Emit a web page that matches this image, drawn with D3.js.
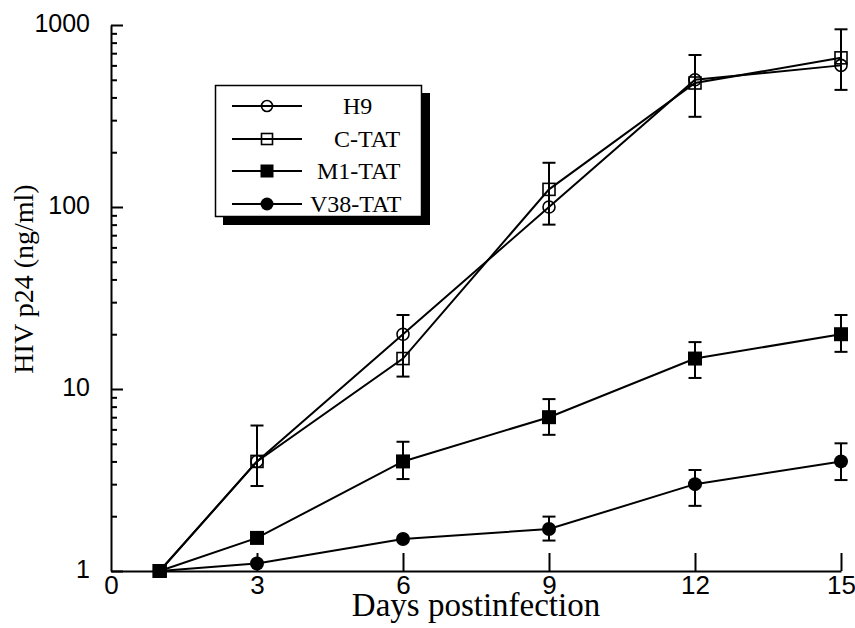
<!DOCTYPE html>
<html>
<head>
<meta charset="utf-8">
<script src="https://cdn.jsdelivr.net/npm/d3@7"></script>
<style>
  html, body { margin: 0; padding: 0; background: #fff; }
  svg { display: block; }
</style>
</head>
<body>
<svg id="chart" width="855" height="628"></svg>
<script>
// ---- data ----
const days = [1, 3, 6, 9, 12, 15];
const seriesNames = ["H9", "C-TAT", "M1-TAT", "V38-TAT"];
const h9 = [1, 4, 20, 100, 500, 600];
const cTat = [1, 4, 14.7, 125, 480, 660];
const m1Tat = [1, 1.52, 4, 7, 14.7, 20];
const v38Tat = [1, 1.1, 1.5, 1.7, 3.0, 4.0];
// error bars (low, high) per day; null = none
const cTatErrLow = [null, 2.93, 11.7, 80, 313, 440];
const cTatErrHigh = [null, 6.3, 25.5, 175, 684, 947];
const m1ErrLow = [null, null, 3.2, 5.6, 11.5, 16.0];
const m1ErrHigh = [null, null, 5.13, 8.8, 18.1, 25.5];
const v38ErrLow = [null, null, null, 1.47, 2.28, 3.16];
const v38ErrHigh = [null, null, null, 1.99, 3.59, 5.03];
const xTicks = [0, 3, 6, 9, 12, 15];
const yMajorTicks = [1, 10, 100, 1000];
const xTitle = "Days postinfection";
const yTitle = "HIV p24 (ng/ml)";

// ---- layout ----
const svg = d3.select("#chart");
const x = d3.scaleLinear().domain([0, 15]).range([111, 841]);
const y = d3.scaleLog().domain([1, 1000]).range([571, 25]);

const yMinorTicks = [];
[1, 10, 100].forEach(d => { for (let k = 2; k <= 9; k++) yMinorTicks.push(d * k); });

const sansFont = "'Liberation Sans', Arial, sans-serif";
const serifFont = "'Liberation Serif', 'Times New Roman', serif";

// y axis minor ticks
const gyMinor = svg.append("g").attr("transform", "translate(111,0)")
  .call(d3.axisLeft(y).tickValues(yMinorTicks).tickFormat("").tickSizeInner(-6).tickSizeOuter(0));
gyMinor.select(".domain").remove();
gyMinor.selectAll("line").attr("stroke", "#000").attr("stroke-width", 2);

// y axis major
const gy = svg.append("g").attr("transform", "translate(111,0)")
  .call(d3.axisLeft(y).tickValues(yMajorTicks).tickFormat(d3.format("d")).tickSizeInner(-12).tickSizeOuter(0).tickPadding(21));
gy.select(".domain").attr("stroke", "#000").attr("stroke-width", 2);
gy.selectAll("line").attr("stroke", "#000").attr("stroke-width", 2);
gy.selectAll("text").attr("font-family", sansFont).attr("font-size", 25).attr("fill", "#000").attr("dy", "0.25em");

// x axis
const gx = svg.append("g").attr("transform", "translate(0,571)")
  .call(d3.axisBottom(x).tickValues(xTicks).tickSizeInner(-18).tickSizeOuter(0).tickPadding(5));
gx.select(".domain").attr("stroke", "#000").attr("stroke-width", 2);
gx.selectAll("line").attr("stroke", "#000").attr("stroke-width", 2);
gx.selectAll(".tick").filter(d => d === 0).select("line").remove();
gx.selectAll("text").attr("font-family", sansFont).attr("font-size", 26).attr("fill", "#000");

// titles
svg.append("text").attr("x", (x(0) + x(15)) / 2).attr("y", 616)
  .attr("text-anchor", "middle").attr("font-family", serifFont).attr("font-size", 33).text(xTitle);
svg.append("text").attr("transform", "translate(33,279) rotate(-90)")
  .attr("text-anchor", "middle").attr("font-family", serifFont).attr("font-size", 28).text(yTitle);

// ---- series ----
const series = [
  { name: seriesNames[0], values: h9, shape: "circle", filled: false },
  { name: seriesNames[1], values: cTat, shape: "square", filled: false, lo: cTatErrLow, hi: cTatErrHigh },
  { name: seriesNames[2], values: m1Tat, shape: "square", filled: true, lo: m1ErrLow, hi: m1ErrHigh },
  { name: seriesNames[3], values: v38Tat, shape: "circle", filled: true, lo: v38ErrLow, hi: v38ErrHigh }
];

const line = d3.line().x(d => x(d[0])).y(d => y(d[1]));

// error bars
const capW = 6.5;
series.forEach(s => {
  if (!s.lo) return;
  days.forEach((dd, i) => {
    if (s.lo[i] == null) return;
    const g = svg.append("g").attr("stroke", "#000").attr("stroke-width", 2);
    g.append("line").attr("x1", x(dd)).attr("x2", x(dd)).attr("y1", y(s.lo[i])).attr("y2", y(s.hi[i]));
    g.append("line").attr("x1", x(dd) - capW).attr("x2", x(dd) + capW).attr("y1", y(s.lo[i])).attr("y2", y(s.lo[i]));
    g.append("line").attr("x1", x(dd) - capW).attr("x2", x(dd) + capW).attr("y1", y(s.hi[i])).attr("y2", y(s.hi[i]));
  });
});

// lines
series.forEach(s => {
  svg.append("path").datum(days.map((d, i) => [d, s.values[i]]))
    .attr("d", line).attr("fill", "none").attr("stroke", "#000").attr("stroke-width", 2);
});

function drawMarker(g, shape, filled, cx, cy, size) {
  if (shape === "circle") {
    g.append("circle").attr("cx", cx).attr("cy", cy).attr("r", filled ? size / 2 + 0.5 : size / 2 - 0.5)
      .attr("fill", filled ? "#000" : "none").attr("stroke", "#000").attr("stroke-width", filled ? 0 : 1.6);
  } else {
    const h = filled ? size / 2 + 0.5 : size / 2 - 0.5;
    g.append("rect").attr("x", cx - h).attr("y", cy - h).attr("width", 2 * h).attr("height", 2 * h)
      .attr("fill", filled ? "#000" : "none").attr("stroke", "#000").attr("stroke-width", filled ? 0 : 1.6);
  }
}

// markers
const mg = svg.append("g");
series.slice().reverse().forEach(s => {
  days.forEach((d, i) => drawMarker(mg, s.shape, s.filled, x(d), y(s.values[i]), 13));
});
drawMarker(mg, "square", true, x(days[0]), y(m1Tat[0]), 13);

// ---- legend ----
const lg = svg.append("g");
lg.append("rect").attr("x", 223).attr("y", 93).attr("width", 207).attr("height", 132).attr("fill", "#000");
lg.append("rect").attr("x", 215.5).attr("y", 85.5).attr("width", 206).attr("height", 131)
  .attr("fill", "#fff").attr("stroke", "#000").attr("stroke-width", 1.5);
const legRowY = [106, 139, 171, 204];
const legTextX = [343, 334, 317, 310];
series.forEach((s, i) => {
  const yy = legRowY[i];
  lg.append("line").attr("x1", 232).attr("x2", 302).attr("y1", yy).attr("y2", yy)
    .attr("stroke", "#000").attr("stroke-width", 2);
  drawMarker(lg, s.shape, s.filled, 267, yy, 12);
  lg.append("text").attr("x", legTextX[i]).attr("y", yy + 8)
    .attr("font-family", serifFont).attr("font-size", 24).text(s.name);
});
</script>
</body>
</html>
